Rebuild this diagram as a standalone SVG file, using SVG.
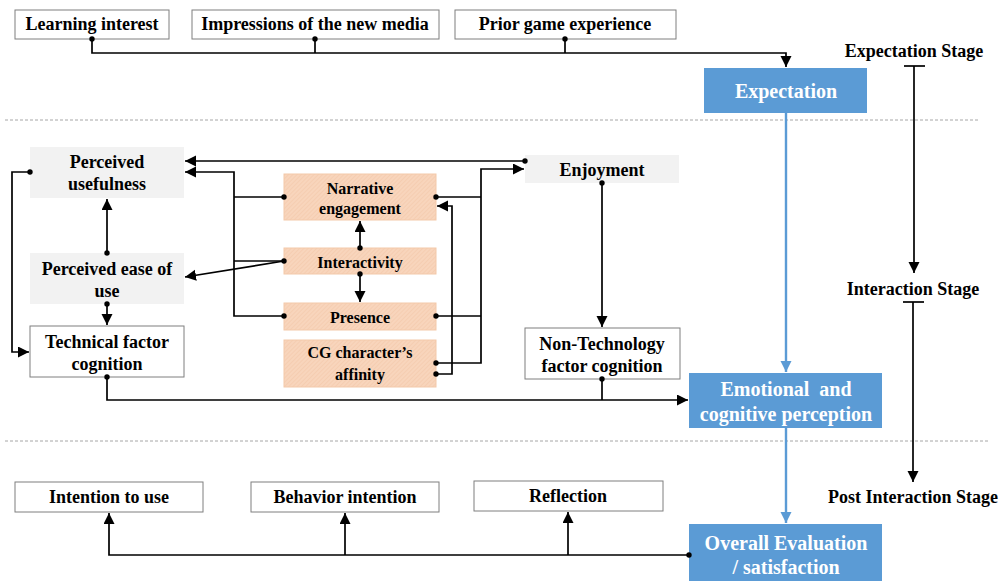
<svg xmlns="http://www.w3.org/2000/svg" width="1000" height="581" viewBox="0 0 1000 581">
  <style>
    text { font-family: "Liberation Serif", "Times New Roman", serif; font-weight: bold; text-anchor: middle; }
    .t { font-size: 18px; fill: #000; }
    .to { font-size: 16px; fill: #000; }
    .tw { font-size: 20px; fill: #fff; }
    .box { fill: #fff; stroke: #7f7f7f; stroke-width: 1; }
    .grey { fill: #f2f2f2; }
    .orange { fill: url(#hatch); stroke: #f3c9aa; stroke-width: 1; }
    .blue { fill: #5b9bd5; }
    .ln { fill: none; stroke: #000; stroke-width: 1.7; }
    .bl { fill: none; stroke: #5b9bd5; stroke-width: 2.4; }
    .dash { fill: none; stroke: #a6a6a6; stroke-width: 1; stroke-dasharray: 3 2; }
  </style>
  <defs>
    <pattern id="hatch" width="3" height="3" patternUnits="userSpaceOnUse" patternTransform="rotate(45)">
      <rect width="3" height="3" fill="#f8d5bc"/>
      <line x1="0" y1="0" x2="0" y2="3" stroke="#f2c6a6" stroke-width="1"/>
    </pattern>
    <marker id="arr" markerUnits="userSpaceOnUse" markerWidth="13" markerHeight="12" refX="11" refY="5.5" orient="auto">
      <path d="M0,0 L11,5.5 L0,11 Z" fill="#000"/>
    </marker>
    <marker id="barr" markerUnits="userSpaceOnUse" markerWidth="13" markerHeight="12" refX="11" refY="5.5" orient="auto">
      <path d="M0,0 L11,5.5 L0,11 Z" fill="#5b9bd5"/>
    </marker>
    <marker id="dot" markerUnits="userSpaceOnUse" markerWidth="7" markerHeight="7" refX="3.5" refY="3.5">
      <circle cx="3.5" cy="3.5" r="2.7" fill="#000"/>
    </marker>
  </defs>

  <!-- stage separators -->
  <line class="dash" x1="5" y1="120" x2="978" y2="120"/>
  <line class="dash" x1="5" y1="441" x2="990" y2="441"/>

  <!-- antecedents -->
  <g id="learning-interest">
    <rect class="box" x="15" y="10" width="154" height="29"/>
    <text class="t" x="92" y="30">Learning interest</text>
  </g>
  <g id="impressions">
    <rect class="box" x="192" y="10" width="247" height="29"/>
    <text class="t" x="315" y="30">Impressions of the new media</text>
  </g>
  <g id="prior-game">
    <rect class="box" x="455" y="10" width="221" height="29"/>
    <text class="t" x="565" y="30">Prior game experience</text>
  </g>

  <!-- stages -->
  <g id="expectation">
    <rect class="blue" x="704" y="68" width="163" height="45"/>
    <text class="tw" x="786" y="98">Expectation</text>
  </g>
  <g id="emotional">
    <rect class="blue" x="689" y="373" width="193" height="55"/>
    <text class="tw" x="786" y="395.5" xml:space="preserve">Emotional  and</text>
    <text class="tw" x="786" y="420.5">cognitive perception</text>
  </g>
  <g id="overall">
    <rect class="blue" x="689" y="524" width="193" height="60"/>
    <text class="tw" x="786" y="549.5">Overall Evaluation</text>
    <text class="tw" x="786" y="573.5">/ satisfaction</text>
  </g>

  <!-- stage labels -->
  <g id="stage-labels">
    <text class="t" x="914" y="57">Expectation Stage</text>
    <text class="t" x="913" y="295">Interaction Stage</text>
    <text class="t" x="913" y="503">Post Interaction Stage</text>
  </g>

  <!-- technical factors -->
  <g id="perceived-usefulness">
    <rect class="grey" x="30" y="147" width="154" height="51"/>
    <text class="t" x="107" y="168">Perceived</text>
    <text class="t" x="107" y="190">usefulness</text>
  </g>
  <g id="perceived-ease">
    <rect class="grey" x="30" y="253" width="154" height="51"/>
    <text class="t" x="107" y="275">Perceived ease of</text>
    <text class="t" x="107" y="297">use</text>
  </g>
  <g id="technical-cognition">
    <rect class="box" x="30" y="326" width="154" height="51"/>
    <text class="t" x="107" y="348">Technical factor</text>
    <text class="t" x="107" y="370">cognition</text>
  </g>

  <!-- experiential factors -->
  <g id="narrative">
    <rect class="orange" x="284" y="174" width="152" height="46"/>
    <text class="to" x="360" y="193.5">Narrative</text>
    <text class="to" x="360" y="213.5">engagement</text>
  </g>
  <g id="interactivity">
    <rect class="orange" x="284" y="248" width="152" height="26"/>
    <text class="to" x="360" y="267.5">Interactivity</text>
  </g>
  <g id="presence">
    <rect class="orange" x="284" y="303" width="152" height="27"/>
    <text class="to" x="360" y="322.5">Presence</text>
  </g>
  <g id="affinity">
    <rect class="orange" x="284" y="340" width="152" height="47"/>
    <text class="to" x="360" y="357.5">CG character’s</text>
    <text class="to" x="360" y="379.5">affinity</text>
  </g>

  <!-- non-technical factors -->
  <g id="enjoyment">
    <rect class="grey" x="525" y="155" width="154" height="28"/>
    <text class="t" x="602" y="176">Enjoyment</text>
  </g>
  <g id="non-tech-cognition">
    <rect class="box" x="525" y="328" width="155" height="51"/>
    <text class="t" x="602" y="350">Non-Technology</text>
    <text class="t" x="602" y="372">factor cognition</text>
  </g>

  <!-- outcomes -->
  <g id="intention-to-use">
    <rect class="box" x="15" y="482" width="188" height="30"/>
    <text class="t" x="109" y="503">Intention to use</text>
  </g>
  <g id="behavior-intention">
    <rect class="box" x="251" y="482" width="188" height="30"/>
    <text class="t" x="345" y="503">Behavior intention</text>
  </g>
  <g id="reflection">
    <rect class="box" x="474" y="481" width="189" height="30"/>
    <text class="t" x="568" y="502">Reflection</text>
  </g>

  <!-- connectors -->
  <g id="connectors">
    <!-- antecedents to expectation -->
    <polyline class="ln" points="92,39 92,53 786,53 786,67" marker-start="url(#dot)" marker-end="url(#arr)"/>
    <polyline class="ln" points="315,39 315,53" marker-start="url(#dot)"/>
    <polyline class="ln" points="565,39 565,53" marker-start="url(#dot)"/>

    <!-- main stage flow -->
    <line class="bl" x1="786" y1="113" x2="786" y2="372" marker-end="url(#barr)"/>
    <line class="bl" x1="786" y1="428" x2="786" y2="523" marker-end="url(#barr)"/>

    <!-- stage timeline -->
    <line class="ln" x1="904" y1="66" x2="925" y2="66"/>
    <line class="ln" x1="914" y1="66" x2="914" y2="273" marker-end="url(#arr)"/>
    <line class="ln" x1="903" y1="302" x2="924" y2="302"/>
    <line class="ln" x1="913" y1="302" x2="913" y2="482" marker-end="url(#arr)"/>

    <!-- enjoyment to perceived usefulness -->
    <line class="ln" x1="525" y1="161" x2="185" y2="161" marker-start="url(#dot)" marker-end="url(#arr)"/>
    <!-- experiential factors to perceived usefulness -->
    <polyline class="ln" points="284,197 234,197" marker-start="url(#dot)"/>
    <polyline class="ln" points="284,261 234,261" marker-start="url(#dot)"/>
    <polyline class="ln" points="284,316 234,316 234,172 185,172" marker-start="url(#dot)" marker-end="url(#arr)"/>
    <!-- interactivity to ease of use -->
    <line class="ln" x1="284" y1="261" x2="185" y2="277" marker-end="url(#arr)"/>
    <!-- narrative / interactivity / presence -->
    <line class="ln" x1="360" y1="248" x2="360" y2="221" marker-start="url(#dot)" marker-end="url(#arr)"/>
    <line class="ln" x1="360" y1="274" x2="360" y2="302" marker-start="url(#dot)" marker-end="url(#arr)"/>
    <!-- experiential factors to enjoyment -->
    <polyline class="ln" points="436,197 481,197" marker-start="url(#dot)"/>
    <polyline class="ln" points="436,316 481,316" marker-start="url(#dot)"/>
    <polyline class="ln" points="436,363 481,363 481,169 524,169" marker-start="url(#dot)" marker-end="url(#arr)"/>
    <!-- affinity to narrative engagement -->
    <polyline class="ln" points="436,374 452,374 452,206 437,206" marker-start="url(#dot)" marker-end="url(#arr)"/>

    <!-- perceived usefulness loop to technical factor cognition -->
    <polyline class="ln" points="30,172 12,172 12,352 29,352" marker-start="url(#dot)" marker-end="url(#arr)"/>
    <line class="ln" x1="107" y1="253" x2="107" y2="199" marker-start="url(#dot)" marker-end="url(#arr)"/>
    <line class="ln" x1="107" y1="304" x2="107" y2="325" marker-start="url(#dot)" marker-end="url(#arr)"/>

    <!-- enjoyment to non-technology factor cognition -->
    <line class="ln" x1="602" y1="183" x2="602" y2="327" marker-start="url(#dot)" marker-end="url(#arr)"/>

    <!-- cognition to emotional and cognitive perception -->
    <polyline class="ln" points="107,377 107,400 688,400" marker-start="url(#dot)" marker-end="url(#arr)"/>
    <polyline class="ln" points="602,379 602,400" marker-start="url(#dot)"/>

    <!-- overall evaluation to outcomes -->
    <polyline class="ln" points="689,555 109,555 109,513" marker-start="url(#dot)" marker-end="url(#arr)"/>
    <line class="ln" x1="345" y1="555" x2="345" y2="513" marker-end="url(#arr)"/>
    <line class="ln" x1="568" y1="555" x2="568" y2="512" marker-end="url(#arr)"/>
  </g>
</svg>
